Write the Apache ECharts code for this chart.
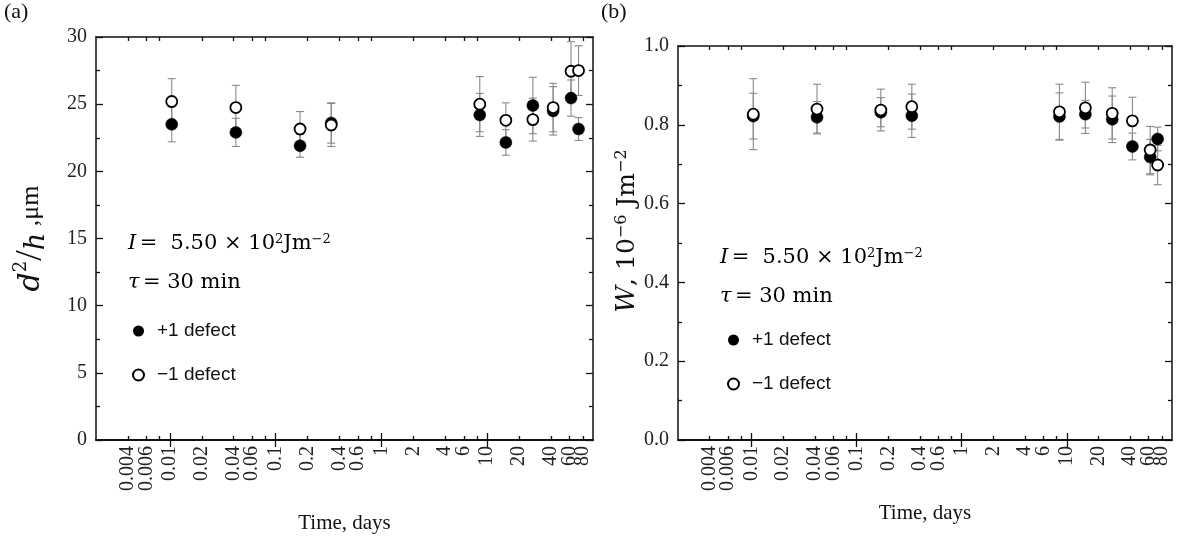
<!DOCTYPE html>
<html><head><meta charset="utf-8">
<script src="https://cdn.jsdelivr.net/npm/echarts@6/dist/echarts.min.js"></script>
<style>html,body{margin:0;padding:0;background:#fff}#c{width:1182px;height:544px}</style>
</head><body><div id="c"></div>
<script>
// ---- data ----
const times = [0.0104, 0.042, 0.17, 0.335, 8.5, 15, 27, 42, 62, 73];
// panel (a): d^2/h, um
const plusA     = [23.5, 22.9, 21.9, 23.6, 24.2, 22.15, 24.9, 24.5, 25.45, 23.15];
const plusAErr  = [1.3, 1.05, 0.85, 1.5, 1.6, 0.95, 2.1, 1.8, 1.35, 0.85];
const minusA    = [25.2, 24.75, 23.15, 23.45, 25.0, 23.8, 23.85, 24.75, 27.45, 27.5];
const minusAErr = [1.7, 1.65, 1.3, 1.6, 2.05, 1.3, 1.6, 1.8, 2.2, 1.85];
// panel (b): W, 10^-6 J m^-2
const plusB     = [0.822, 0.819, 0.832, 0.823, 0.821, 0.827, 0.814, 0.745, 0.718, 0.764];
const plusBErr  = [0.058, 0.04, 0.037, 0.055, 0.06, 0.035, 0.059, 0.034, 0.045, 0.03];
const minusB    = [0.827, 0.840, 0.8375, 0.846, 0.833, 0.843, 0.829, 0.81, 0.736, 0.698];
const minusBErr = [0.09, 0.063, 0.053, 0.057, 0.07, 0.065, 0.065, 0.06, 0.06, 0.05];
// axes (tick labels split over two overlaid axes so that none is auto-hidden)
const xTickLabelsA = [0.004, 0.01, 0.04, 0.1, 0.4, 1, 4, 10, 40, 80];
const xTickLabelsB = [0.006, 0.02, 0.06, 0.2, 0.6, 2, 6, 20, 60];
const xMajorTicks = [0.01, 0.1, 1, 10];
const xMinorTicks = [0.004, 0.006, 0.008, 0.02, 0.04, 0.06, 0.08, 0.2, 0.4, 0.6, 0.8, 2, 4, 6, 8, 20, 40, 60, 80];
const seriesNames = ['+1 defect', '\u22121 defect'];

// ---- helpers ----
const SERIF = '"Liberation Serif", "Times New Roman", serif';
const MATH = '"DejaVu Serif", serif';
const SANS = '"Liberation Sans", Arial, sans-serif';
const X_MIN = 0.002, X_MAX = 100;
const fmtNum = v => String(parseFloat(Number(v).toPrecision(6)));

function xAx(gridIndex, position, ticks, len, labels, name, nameGap) {
  const ax = {
    type: 'log', gridIndex, position, min: X_MIN, max: X_MAX, logBase: 10,
    axisLine: { show: true, lineStyle: { color: '#111', width: 1.5 } },
    axisTick: { show: true, inside: true, length: len, customValues: ticks, lineStyle: { color: '#111', width: 1.3 } },
    splitLine: { show: false }, minorTick: { show: false },
    axisLabel: labels ? {
      show: true, customValues: labels, rotate: 90, margin: 6, interval: 0, hideOverlap: false,
      showMaxLabel: true, showMinLabel: true,
      fontFamily: SERIF, fontSize: 20, color: '#222', formatter: fmtNum
    } : { show: false }
  };
  if (name) {
    ax.name = name; ax.nameLocation = 'middle'; ax.nameGap = nameGap;
    ax.nameTextStyle = { fontFamily: SERIF, fontSize: 21, color: '#111' };
  }
  return ax;
}
function yAx(gridIndex, position, min, max, interval, labels, fmt, show, name, nameGap, nameStyle) {
  const ax = {
    type: 'value', gridIndex, position, min, max, interval, show,
    axisLine: { show: true, lineStyle: { color: '#111', width: 1.5 } },
    axisTick: { show: true, inside: true, length: 7, lineStyle: { color: '#111', width: 1.3 } },
    minorTick: { show: true, splitNumber: 2, length: 4, lineStyle: { color: '#111', width: 1.3 } },
    splitLine: { show: false },
    axisLabel: labels ? { show: true, margin: 9, fontFamily: SERIF, fontSize: 20, color: '#222', formatter: fmt } : { show: false }
  };
  if (name) {
    ax.name = name; ax.nameLocation = 'middle'; ax.nameGap = nameGap; ax.nameRotate = 90;
    ax.nameTextStyle = nameStyle;
  }
  return ax;
}
function errData(vals, errs) { return times.map((t, i) => [t, vals[i] - errs[i], vals[i] + errs[i]]); }
function ptData(vals) { return times.map((t, i) => [t, vals[i]]); }
function renderErr(params, api) {
  const x = api.value(0);
  const lo = api.coord([x, api.value(1)]);
  const hi = api.coord([x, api.value(2)]);
  const cw = 4;
  const st = { stroke: '#8a8a8a', lineWidth: 1.1 };
  return { type: 'group', children: [
    { type: 'line', shape: { x1: lo[0], y1: lo[1], x2: hi[0], y2: hi[1] }, style: st },
    { type: 'line', shape: { x1: lo[0] - cw, y1: lo[1], x2: lo[0] + cw, y2: lo[1] }, style: st },
    { type: 'line', shape: { x1: hi[0] - cw, y1: hi[1], x2: hi[0] + cw, y2: hi[1] }, style: st }
  ] };
}
function errSeries(xi, yi, vals, errs) {
  return { type: 'custom', xAxisIndex: xi, yAxisIndex: yi, renderItem: renderErr,
    encode: { x: 0, y: [1, 2] }, data: errData(vals, errs), z: 1, silent: true, clip: false };
}
function ptSeries(name, xi, yi, vals, filled) {
  return { name, type: 'scatter', xAxisIndex: xi, yAxisIndex: yi, data: ptData(vals), z: 3,
    symbol: 'circle', symbolSize: filled ? 12 : 11,
    itemStyle: filled ? { color: '#000', borderColor: '#000', borderWidth: 0.5, opacity: 1 }
                      : { color: '#fff', borderColor: '#000', borderWidth: 1.8, opacity: 1 } };
}
function legendAt(left, top) {
  return { left, top, orient: 'vertical', itemGap: 22, itemWidth: 11, itemHeight: 11, icon: 'circle',
    selectedMode: false,
    textStyle: { fontFamily: SANS, fontSize: 19, color: '#111', padding: [0, 0, 0, 8], lineHeight: 22 },
    data: [
      { name: seriesNames[0], itemStyle: { color: '#000', borderWidth: 0 } },
      { name: seriesNames[1], itemStyle: { color: '#fff', borderColor: '#000', borderWidth: 2 } }
    ] };
}
const iRich = {
  it: { fontFamily: MATH, fontStyle: 'italic', fontSize: 21, color: '#111' },
  n: { fontFamily: MATH, fontSize: 21, color: '#111' },
  s: { fontFamily: MATH, fontSize: 13, color: '#111', verticalAlign: 'top', padding: [0, 0, 9, 0] }
};
function paramText(left, top) {
  return [
    { type: 'text', left, top, style: { text: '{it|I} {n|=  5.50 \u00d7 10}{s|2}{n|Jm}{s|\u22122}', rich: iRich } },
    { type: 'text', left, top: top + 39, style: { text: '{it|\u03c4} {n|= 30 min}', rich: iRich } }
  ];
}

const gA = { left: 96, top: 37, width: 497, height: 403 };
const gB = { left: 678, top: 46, width: 494, height: 394 };

const option = {
  animation: false,
  backgroundColor: '#fff',
  grid: [
    Object.assign({ containLabel: false }, gA),
    Object.assign({ containLabel: false }, gA),
    Object.assign({ containLabel: false }, gB),
    Object.assign({ containLabel: false }, gB)
  ],
  xAxis: [
    xAx(0, 'bottom', xMajorTicks, 7, xTickLabelsA),
    xAx(0, 'top', xMajorTicks, 7, null),
    xAx(1, 'bottom', xMinorTicks, 4, xTickLabelsB, 'Time, days', 73),
    xAx(1, 'top', xMinorTicks, 4, null),
    xAx(2, 'bottom', xMajorTicks, 7, xTickLabelsA),
    xAx(2, 'top', xMajorTicks, 7, null),
    xAx(3, 'bottom', xMinorTicks, 4, xTickLabelsB, 'Time, days', 63),
    xAx(3, 'top', xMinorTicks, 4, null)
  ],
  yAxis: [
    yAx(0, 'left', 0, 30, 5, true, v => String(v), true, '{d|d}{sup|2}{sl|/}{h|h}{u| ,\u03bcm}', 46, {
      rich: {
        d: { fontFamily: MATH, fontStyle: 'italic', fontSize: 30, color: '#111' },
        sup: { fontFamily: MATH, fontSize: 18, color: '#111', verticalAlign: 'top', padding: [0, 0, 12, 0] },
        sl: { fontFamily: SERIF, fontSize: 38, color: '#111' },
        h: { fontFamily: MATH, fontStyle: 'italic', fontSize: 27, color: '#111', verticalAlign: 'bottom', padding: [10, 0, 0, 0] },
        u: { fontFamily: SERIF, fontSize: 26, color: '#111' }
      } }),
    yAx(0, 'right', 0, 30, 5, false, null, true),
    yAx(1, 'left', 0, 30, 5, false, null, false),
    yAx(2, 'left', 0, 1, 0.2, true, v => v.toFixed(1), true, '{w|W}{n|, 10}{sup|\u22126}{n| Jm}{sup|\u22122}', 38, {
      padding: [0, 0, 0, 24],
      rich: {
        w: { fontFamily: MATH, fontStyle: 'italic', fontSize: 26, color: '#111' },
        n: { fontFamily: MATH, fontSize: 25, color: '#111' },
        sup: { fontFamily: MATH, fontSize: 16, color: '#111', verticalAlign: 'top', padding: [0, 0, 10, 0] }
      } }),
    yAx(2, 'right', 0, 1, 0.2, false, null, true),
    yAx(3, 'left', 0, 1, 0.2, false, null, false)
  ],
  legend: [legendAt(127, 315), legendAt(722, 324)],
  graphic: [
    { type: 'text', left: 4, top: 1, style: { text: '(a)', font: '22px ' + SERIF, fill: '#111' } },
    { type: 'text', left: 601, top: 1, style: { text: '(b)', font: '22px ' + SERIF, fill: '#111' } }
  ].concat(paramText(128, 233), paramText(720, 247)),
  series: [
    errSeries(0, 0, minusA, minusAErr),
    errSeries(0, 0, plusA, plusAErr),
    ptSeries(seriesNames[0], 0, 0, plusA, true),
    ptSeries(seriesNames[1], 0, 0, minusA, false),
    errSeries(4, 3, minusB, minusBErr),
    errSeries(4, 3, plusB, plusBErr),
    ptSeries(seriesNames[0], 4, 3, plusB, true),
    ptSeries(seriesNames[1], 4, 3, minusB, false)
  ]
};
const chart = echarts.init(document.getElementById('c'), null, { renderer: 'canvas' });
chart.setOption(option);
</script></body></html>
